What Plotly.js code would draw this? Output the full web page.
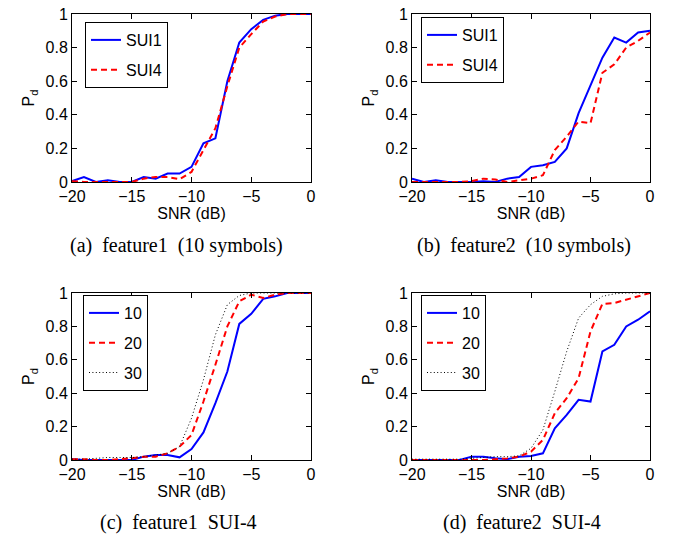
<!DOCTYPE html>
<html><head><meta charset="utf-8">
<script src="https://cdn.plot.ly/plotly-3.0.1.min.js"></script>
<style>html,body{margin:0;padding:0;background:#fff}#chart{width:674px;height:540px}</style>
</head><body><div id="chart"></div><script>
const snr = [-20,-19,-18,-17,-16,-15,-14,-13,-12,-11,-10,-9,-8,-7,-6,-5,-4,-3,-2,-1,0];

// (a) feature1 (10 symbols)
const a_sui1 = [0.005,0.03,0,0.01,0,0,0.03,0.02,0.05,0.05,0.09,0.23,0.26,0.6,0.83,0.91,0.965,0.99,1,1,1];
const a_sui4 = [0.005,0,0,0,0,0,0.02,0.03,0.03,0.016,0.06,0.19,0.32,0.57,0.8,0.88,0.955,0.985,1,1,1];
// (b) feature2 (10 symbols)
const b_sui1 = [0.02,0,0.01,0,0,0,0.005,0,0.02,0.03,0.09,0.1,0.12,0.2,0.41,0.58,0.74,0.86,0.83,0.89,0.9];
const b_sui4 = [0,0,0,0,0,0.005,0.02,0.015,0,0.01,0.02,0.04,0.19,0.27,0.36,0.35,0.65,0.7,0.8,0.84,0.89];
// (c) feature1 SUI-4
const c_10 = [0.005,0,0,0,0,0,0.02,0.03,0.03,0.016,0.066,0.165,0.34,0.53,0.815,0.875,0.965,0.98,1,1,1];
const c_20 = [0.005,0.005,0,0,0.005,0.01,0.02,0.02,0.04,0.08,0.15,0.35,0.57,0.8,0.95,0.99,0.97,0.99,1,1,1];
const c_30 = [0.005,0.005,0.01,0.015,0.015,0.015,0.02,0.03,0.04,0.08,0.25,0.48,0.75,0.93,0.985,1,1,1,1,1,1];
// (d) feature2 SUI-4
const d_10 = [0,0,0,0,0,0.02,0.02,0.01,0.005,0.02,0.024,0.04,0.19,0.27,0.36,0.35,0.65,0.69,0.8,0.84,0.89];
const d_20 = [0,0,0,0,0,0,0,0.005,0.01,0.02,0.05,0.12,0.28,0.37,0.49,0.77,0.935,0.94,0.96,0.98,1];
const d_30 = [0.005,0.005,0.005,0.005,0.005,0.01,0.015,0.02,0.02,0.025,0.07,0.18,0.41,0.65,0.85,0.93,0.98,0.995,1,1,1];

const legendNamesTop = ['SUI1','SUI4'];
const legendNamesBot = ['10','20','30'];
const captions = ['(a)\u00a0\u00a0feature1\u00a0\u00a0(10\u00a0symbols)','(b)\u00a0\u00a0feature2\u00a0\u00a0(10\u00a0symbols)','(c)\u00a0\u00a0feature1\u00a0\u00a0SUI-4','(d)\u00a0\u00a0feature2\u00a0\u00a0SUI-4'];

const SANS = 'Liberation Sans, Arial, sans-serif';
const SERIF = 'Liberation Serif, Times New Roman, serif';
const blue = {color:'#0000ff', width:2, dash:'solid'};
const red = {color:'#ff0000', width:2, dash:'6px,4px'};
const dot = {color:'#000000', width:1, dash:'1px,2.4px'};

function tr(y, name, line, ax, leg, grp){
  return {x:snr, y:y, name:name, mode:'lines', line:line, xaxis:'x'+ax, yaxis:'y'+ax, legend:leg, legendgroup:grp};
}
const data = [
  tr(a_sui1, legendNamesTop[0], blue, '', 'legend', 'a1'),
  tr(a_sui4, legendNamesTop[1], red, '', 'legend', 'a2'),
  tr(b_sui1, legendNamesTop[0], blue, '2', 'legend2', 'b1'),
  tr(b_sui4, legendNamesTop[1], red, '2', 'legend2', 'b2'),
  tr(c_10, legendNamesBot[0], blue, '3', 'legend3', 'c1'),
  tr(c_20, legendNamesBot[1], red, '3', 'legend3', 'c2'),
  tr(c_30, legendNamesBot[2], dot, '3', 'legend3', 'c3'),
  tr(d_10, legendNamesBot[0], blue, '4', 'legend4', 'd1'),
  tr(d_20, legendNamesBot[1], red, '4', 'legend4', 'd2'),
  tr(d_30, legendNamesBot[2], dot, '4', 'legend4', 'd3')
];

function xax(dom, anchor){
  return {domain:dom, anchor:anchor, range:[-20,0], tickvals:[-20,-15,-10,-5,0],
    ticks:'inside', ticklen:5, tickcolor:'#000', showline:true, linecolor:'#000', linewidth:1,
    mirror:'ticks', showgrid:false, zeroline:false, tickfont:{family:SANS, size:16, color:'#000'},
    title:{text:'SNR (dB)', font:{family:SANS, size:16, color:'#000'}, standoff:2}};
}
function yax(dom, anchor){
  return {domain:dom, anchor:anchor, range:[0,1], tickvals:[0,0.2,0.4,0.6,0.8,1],
    ticks:'inside', ticklen:5, tickcolor:'#000', showline:true, linecolor:'#000', linewidth:1,
    mirror:'ticks', showgrid:false, zeroline:false, tickfont:{family:SANS, size:16, color:'#000'},
    title:{text:'P<sub>d</sub>', font:{family:SANS, size:16, color:'#000'}, standoff:6}};
}
const xL = [72/674, 311/674], xR = [412/674, 650/674];
const yT = [1-182/540, 1-14/540], yB = [1-460/540, 1-293/540];

function leg(x, y){
  return {x:x, y:y, xanchor:'left', yanchor:'top', bordercolor:'#000', borderwidth:1, bgcolor:'#fff',
    font:{family:SANS, size:16, color:'#000'}, tracegroupgap:6, traceorder:'grouped'};
}

const layout = {
  width:674, height:540, margin:{l:0, r:0, t:0, b:0},
  paper_bgcolor:'#fff', plot_bgcolor:'#fff', showlegend:true,
  xaxis:xax(xL,'y'), yaxis:yax(yT,'x'),
  xaxis2:xax(xR,'y2'), yaxis2:yax(yT,'x2'),
  xaxis3:xax(xL,'y3'), yaxis3:yax(yB,'x3'),
  xaxis4:xax(xR,'y4'), yaxis4:yax(yB,'x4'),
  legend:leg(85/674, 1-22/540),
  legend2:leg(421/674, 1-17/540),
  legend3:leg(83/674, 1-295/540),
  legend4:leg(421/674, 1-295/540),
  annotations:[
    {text:captions[0], x:176/674, y:1-245/540},
    {text:captions[1], x:524/674, y:1-245/540},
    {text:captions[2], x:178/674, y:1-522/540},
    {text:captions[3], x:522/674, y:1-522/540}
  ].map(a => Object.assign(a, {xref:'paper', yref:'paper', xanchor:'center', yanchor:'middle', showarrow:false,
    font:{family:SERIF, size:20, color:'#000'}}))
};
Plotly.newPlot('chart', data, layout, {staticPlot:true, displayModeBar:false});
</script></body></html>
